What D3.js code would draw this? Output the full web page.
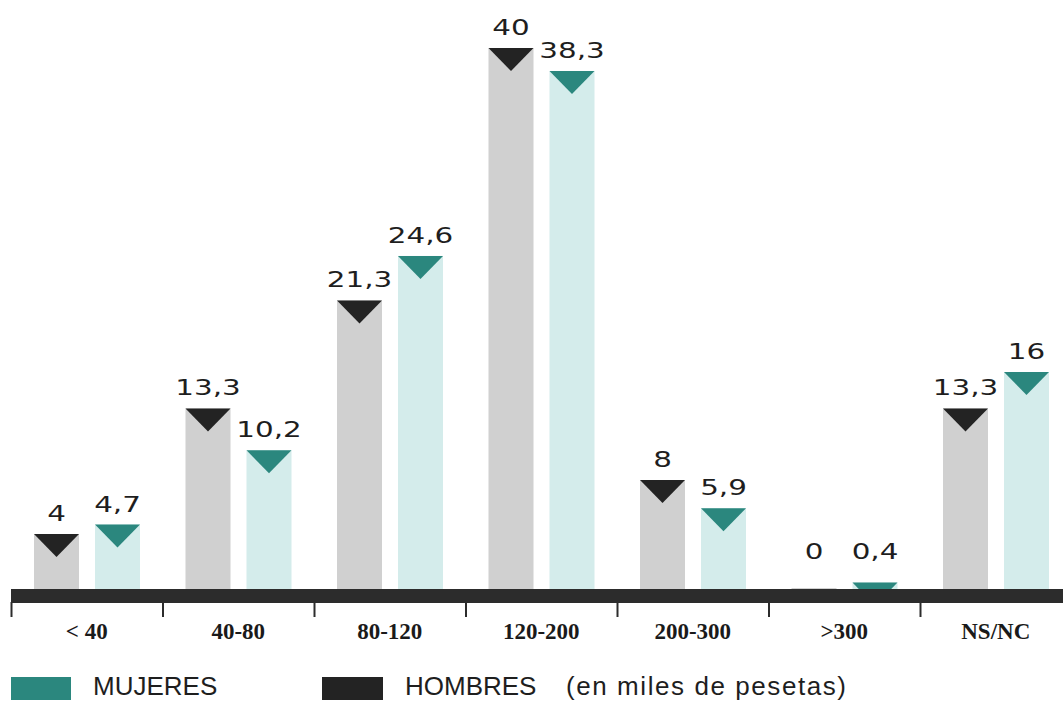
<!DOCTYPE html>
<html>
<head>
<meta charset="utf-8">
<script src="https://cdn.jsdelivr.net/npm/d3@7/dist/d3.min.js"></script>
<style>
  html, body { margin: 0; padding: 0; background: #ffffff; }
  svg { display: block; }
</style>
</head>
<body>
<svg id="chart" width="1063" height="702"></svg>
<script>
// Income brackets (thousands of pesetas) and share of respondents per sex
const categories = ["< 40", "40-80", "80-120", "120-200", "200-300", ">300", "NS/NC"];
const hombres = [4, 13.3, 21.3, 40, 8, 0, 13.3];
const mujeres = [4.7, 10.2, 24.6, 38.3, 5.9, 0.4, 16];
const valueLabelsH = ["4", "13,3", "21,3", "40", "8", "0", "13,3"];
const valueLabelsM = ["4,7", "10,2", "24,6", "38,3", "5,9", "0,4", "16"];
const seriesNames = ["HOMBRES", "MUJERES"];
const legendNote = "(en miles de pesetas)";

const W = 1063, H = 702;
const baseY = 588;

const svg = d3.select("#chart");

const x = d3.scaleBand().domain(categories).range([11, 1071.5]).paddingInner(0).paddingOuter(0);
const xs = d3.scaleBand().domain(seriesNames).range([23, 129]).paddingInner(0.262).paddingOuter(0);
const y = d3.scaleLinear().domain([0, 40]).range([baseY, 48]);

const colors = {
  HOMBRES: { bar: "#d0d0d0", marker: "#232323" },
  MUJERES: { bar: "#d4eceb", marker: "#2b877e" }
};

const rows = categories.map((c, i) => ({
  cat: c,
  vals: [
    { s: "HOMBRES", v: hombres[i], label: valueLabelsH[i] },
    { s: "MUJERES", v: mujeres[i], label: valueLabelsM[i] }
  ]
}));

svg.append("defs").append("clipPath").attr("id", "plotClip")
  .append("rect").attr("x", 0).attr("y", 0).attr("width", W).attr("height", baseY + 1);

const plot = svg.append("g").attr("clip-path", "url(#plotClip)");

const groups = plot.selectAll("g.cat").data(rows).join("g")
  .attr("class", "cat")
  .attr("transform", d => `translate(${x(d.cat)},0)`);

// Bars
groups.selectAll("rect.bar").data(d => d.vals).join("rect")
  .attr("class", "bar")
  .attr("x", d => xs(d.s))
  .attr("width", xs.bandwidth())
  .attr("y", d => y(d.v))
  .attr("height", d => baseY + 1 - y(d.v))
  .attr("fill", d => colors[d.s].bar);

// Down-pointing marker at the top of every bar
const triH = 23;
groups.selectAll("path.marker").data(d => d.vals.filter(v => v.v > 0)).join("path")
  .attr("class", "marker")
  .attr("d", d => {
    const x0 = xs(d.s), x1 = x0 + xs.bandwidth(), top = y(d.v);
    return `M${x0},${top}L${x1},${top}L${(x0 + x1) / 2},${top + triH}Z`;
  })
  .attr("fill", d => colors[d.s].marker);

// Value labels
const labels = svg.append("g");
rows.forEach(r => {
  r.vals.forEach(d => {
    const cx = x(r.cat) + xs(d.s) + xs.bandwidth() / 2;
    const by = Math.min(y(d.v), baseY - 16) - 13;
    labels.append("text")
      .attr("transform", `translate(${cx},${by}) scale(1.4,1)`)
      .attr("text-anchor", "middle")
      .attr("font-family", "DejaVu Sans, sans-serif")
      .attr("font-size", 21)
      .attr("fill", "#1e1e1e")
      .text(d.label);
  });
});

// Axis band
svg.append("rect")
  .attr("x", 11).attr("y", baseY + 1)
  .attr("width", W - 11).attr("height", 14)
  .attr("fill", "#2c2c2c");

// Category boundary ticks
svg.append("g").selectAll("line").data(categories).join("line")
  .attr("x1", d => x(d) + 0.5).attr("x2", d => x(d) + 0.5)
  .attr("y1", baseY + 14).attr("y2", 617)
  .attr("stroke", "#2c2c2c").attr("stroke-width", 2);

// Category labels
svg.append("g").selectAll("text").data(categories).join("text")
  .attr("x", d => x(d) + x.bandwidth() / 2)
  .attr("y", 639)
  .attr("text-anchor", "middle")
  .attr("font-family", "Liberation Serif, Times New Roman, serif")
  .attr("font-weight", "bold")
  .attr("font-size", 23)
  .attr("fill", "#1a1a1a")
  .text(d => d);

// Legend
const legend = svg.append("g");
const legendFont = { family: "Liberation Sans, Arial, sans-serif", size: 26 };
legend.append("rect").attr("x", 11).attr("y", 677).attr("width", 60).attr("height", 23).attr("fill", colors.MUJERES.marker);
legend.append("text").attr("x", 93).attr("y", 695)
  .attr("font-family", legendFont.family).attr("font-size", legendFont.size).attr("fill", "#1e1e1e")
  .text(seriesNames[1]);
legend.append("rect").attr("x", 322).attr("y", 677).attr("width", 61).attr("height", 23).attr("fill", colors.HOMBRES.marker);
legend.append("text").attr("x", 405).attr("y", 695)
  .attr("font-family", legendFont.family).attr("font-size", legendFont.size).attr("fill", "#1e1e1e")
  .text(seriesNames[0]);
legend.append("text").attr("x", 566).attr("y", 695)
  .attr("font-family", legendFont.family).attr("font-size", legendFont.size).attr("fill", "#1e1e1e")
  .attr("textLength", 280).attr("lengthAdjust", "spacing")
  .text(legendNote);
</script>
</body>
</html>
